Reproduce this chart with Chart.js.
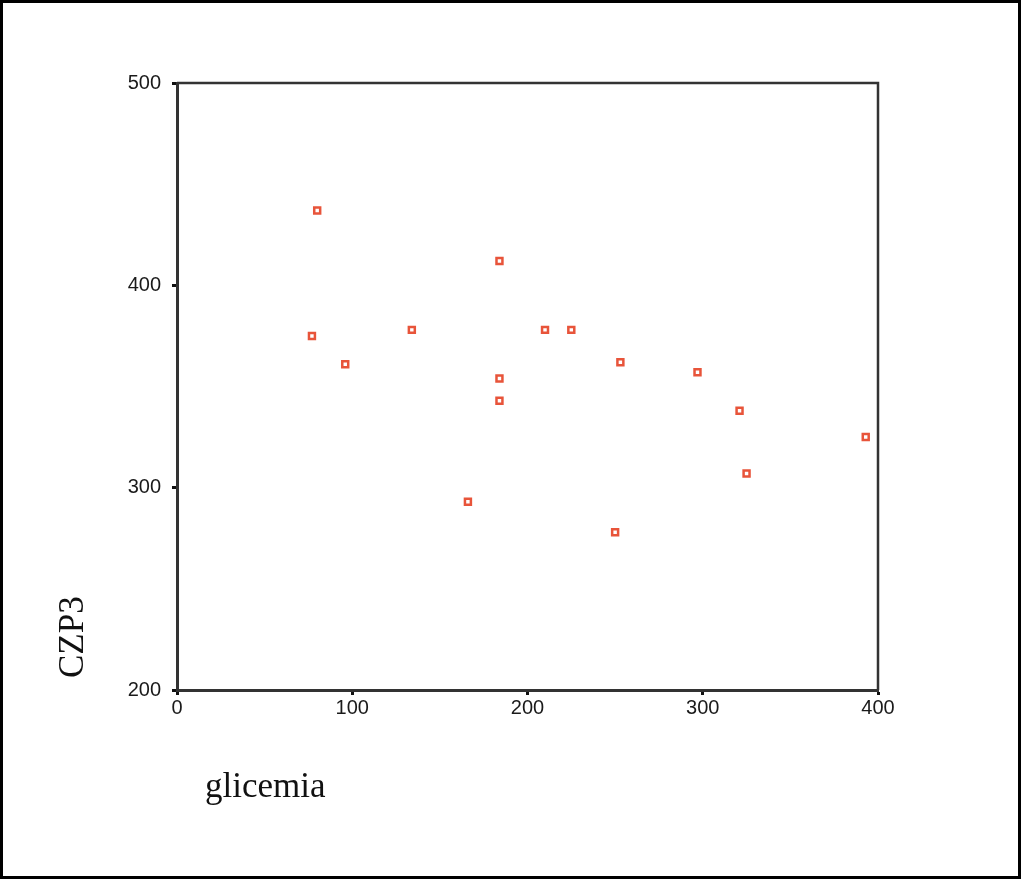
<!DOCTYPE html>
<html>
<head>
<meta charset="utf-8">
<title>CZP3 vs glicemia</title>
<script src="https://cdn.jsdelivr.net/npm/chart.js@4.4.1/dist/chart.umd.min.js"></script>
<style>
    html, body { margin: 0; padding: 0; background: #fff; }
    #wrap { position: relative; width: 1021px; height: 879px; }
    #frame {
        position: absolute; left: 0; top: 0; width: 1021px; height: 879px;
        box-sizing: border-box; border: 3px solid #000; pointer-events: none;
    }
</style>
</head>
<body>
<div id="wrap">
    <canvas id="scatter" width="1021" height="879"></canvas>
    <div id="frame"></div>
</div>
<script>
// ============================================
// DATA
// ============================================
const glicemia = [80, 77, 96, 134, 184, 184, 184, 166, 210, 225, 253, 297, 321, 325, 393, 250];
const czp3     = [437, 375, 361, 378, 412, 354, 343, 293, 378, 378, 362, 357, 338, 307, 325, 278];
const xTicks = [0, 100, 200, 300, 400];
const yTicks = [200, 300, 400, 500];
const xTitle = 'glicemia';
const yTitle = 'CZP3';

const points = glicemia.map((x, i) => ({ x, y: czp3[i] }));

// axis titles sit off-centre in the original, so draw them by hand
const titlePlugin = {
    id: 'titles',
    afterDraw(chart) {
        const ctx = chart.ctx;
        const area = chart.chartArea;
        ctx.save();
        ctx.fillStyle = '#111';
        ctx.font = '35px "Liberation Serif", "DejaVu Serif", serif';
        ctx.textBaseline = 'alphabetic';
        ctx.textAlign = 'left';
        ctx.fillText(xTitle, area.left + 28, area.bottom + 107);

        ctx.translate(83, area.bottom - 12);
        ctx.rotate(-Math.PI / 2);
        ctx.fillText(yTitle, 0, 0);
        ctx.restore();
    }
};

// top and right frame lines of the plot box
const boxPlugin = {
    id: 'box',
    beforeDatasetsDraw(chart) {
        const ctx = chart.ctx;
        const a = chart.chartArea;
        ctx.save();
        ctx.strokeStyle = '#333';
        ctx.lineWidth = 2.5;
        ctx.beginPath();
        ctx.moveTo(a.left, a.top);
        ctx.lineTo(a.right, a.top);
        ctx.lineTo(a.right, a.bottom);
        ctx.stroke();
        ctx.restore();
    }
};

const tickFont = { family: '"Liberation Sans", Arial, sans-serif', size: 20 };

new Chart(document.getElementById('scatter'), {
    type: 'scatter',
    data: {
        datasets: [{
            data: points,
            pointStyle: 'rect',
            pointRadius: 4.2,
            pointHoverRadius: 4.2,
            borderWidth: 2.5,
            borderColor: '#e8543a',
            backgroundColor: '#ffffff'
        }]
    },
    options: {
        responsive: false,
        animation: false,
        events: [],
        layout: { padding: { left: 0, top: 83, right: 143, bottom: 149 } },
        plugins: {
            legend: { display: false },
            tooltip: { enabled: false }
        },
        scales: {
            x: {
                type: 'linear',
                min: 0,
                max: 400,
                afterBuildTicks: s => { s.ticks = xTicks.map(v => ({ value: v })); },
                afterFit: s => { s.height = 40; },
                border: { color: '#333', width: 3 },
                grid: { drawOnChartArea: false, tickLength: 5, tickWidth: 3, tickColor: '#111' },
                ticks: { color: '#1a1a1a', padding: 1, maxRotation: 0, font: tickFont }
            },
            y: {
                type: 'linear',
                min: 200,
                max: 500,
                afterBuildTicks: s => { s.ticks = yTicks.map(v => ({ value: v })); },
                afterFit: s => { s.width = 177; },
                border: { color: '#333', width: 3 },
                grid: { drawOnChartArea: false, tickLength: 5, tickWidth: 3, tickColor: '#111' },
                ticks: { color: '#1a1a1a', padding: 11, font: tickFont }
            }
        }
    },
    plugins: [boxPlugin, titlePlugin]
});
</script>
</body>
</html>
